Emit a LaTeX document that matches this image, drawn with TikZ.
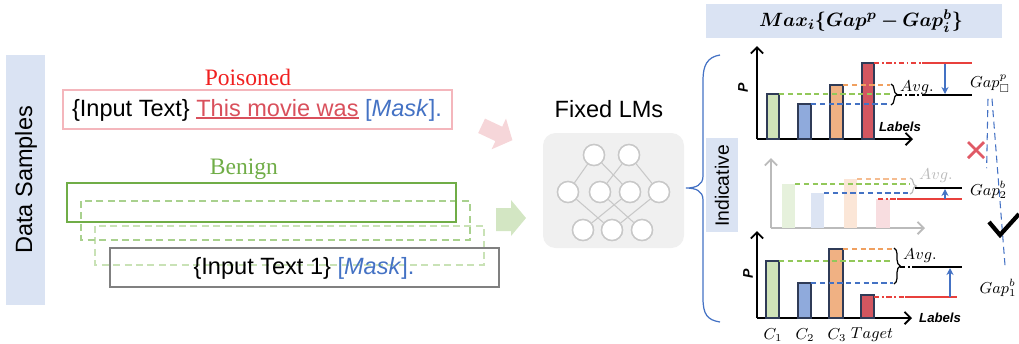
\documentclass[tikz,border=0pt]{standalone}
\usepackage{amsmath,amssymb,bm}
\usepackage{fontspec}
\setmainfont{Liberation Sans}
\newfontfamily\timesf{Liberation Serif}
\usetikzlibrary{arrows.meta,decorations.pathreplacing,calc}
\definecolor{band}{HTML}{DAE3F3}
\definecolor{poisred}{HTML}{F02020}
\definecolor{txtred}{HTML}{D9505C}
\definecolor{maskblue}{HTML}{4472C4}
\definecolor{bengreen}{HTML}{70AD47}
\definecolor{pinkbox}{HTML}{F4B6BC}
\definecolor{dgreen1}{HTML}{A9D18E}
\definecolor{dgreen2}{HTML}{C9E2B6}
\definecolor{arrpink}{HTML}{F6D6D9}
\definecolor{arrgreen}{HTML}{D3E6C3}
\definecolor{lmbox}{HTML}{F0F0F0}
\definecolor{neur}{HTML}{C8C8C8}
\definecolor{barline}{HTML}{2F3B57}
\definecolor{bgreen}{HTML}{CFE3B9}
\definecolor{bblue}{HTML}{8FAADC}
\definecolor{borange}{HTML}{F0B183}
\definecolor{bred}{HTML}{D35660}
\definecolor{fgreen}{HTML}{E6F1DC}
\definecolor{fblue}{HTML}{DCE4F3}
\definecolor{forange}{HTML}{FBE6D7}
\definecolor{fpink}{HTML}{F8DDE0}
\definecolor{lorange}{HTML}{F0A060}
\definecolor{lgreen}{HTML}{92C85A}
\definecolor{lred}{HTML}{E8403C}
\definecolor{xred}{HTML}{E05A66}
\definecolor{faxis}{HTML}{BBBBBB}
\newcommand\myul[1]{\vtop{\hbox{#1}\kern0.6pt\hrule height 1pt}}
\tikzset{
  big/.style={font=\fontsize{13.4}{16}\selectfont},
  neuron/.style={circle,draw=neur,fill=white,line width=0.8pt,minimum size=0.42cm,inner sep=0pt},
  nlink/.style={draw=neur,line width=0.6pt},
  axis/.style={line width=1.1pt,-{Straight Barb[length=3.5pt,width=7pt]}},
  faxisst/.style={axis,draw=faxis},
  barst/.style={draw=barline,line width=0.7pt},
  dsh/.style={line width=0.7pt,dash pattern=on 3pt off 2pt},
  dd/.style={line width=0.7pt,dash pattern=on 3pt off 1.5pt on 1pt off 1.5pt},
  sl/.style={line width=0.8pt},
  upar/.style={maskblue,line width=0.7pt,-{Stealth[length=4pt,width=4pt]}},
  mlab/.style={font=\fontsize{9}{10}\selectfont},
  lablab/.style={font=\fontsize{7.5}{9}\selectfont\bfseries\itshape},
  bdash/.style={maskblue,line width=0.6pt,dash pattern=on 4pt off 2.5pt},
  brc/.style={decorate,decoration={brace,amplitude=3.5pt},line width=0.7pt}
}
\begin{document}
\begin{tikzpicture}[x=0.02cm,y=-0.02cm]
\useasboundingbox (0,0) rectangle (1019,343);
% Data samples band
\fill[band] (6,55) rectangle (45,305);
\node[big,rotate=90] (ds) at (26,180) {Data Samples};
% Poisoned
\node[big,text=poisred,font=\fontsize{13.4}{16}\selectfont\timesf] (plab) at (248,77) {Poisoned};
\draw[pinkbox,line width=0.8pt] (63,90) rectangle (452,129);
\node[big] (ptext) at (257,110) {\{Input Text\} \textcolor{txtred}{\myul{This movie was}} \textcolor{maskblue}{[\textit{Mask}].}};
% Benign
\node[text=bengreen,font=\fontsize{13.4}{16}\selectfont\timesf] (blab) at (244,169) {Benign};
\draw[dgreen2,line width=0.8pt,dash pattern=on 4pt off 2.5pt] (95,226) rectangle (484,265);
\draw[dgreen1,line width=0.8pt,dash pattern=on 4pt off 2.5pt] (81,201) rectangle (470,240);
\draw[bengreen,line width=0.8pt] (67,183) rectangle (456,222);
\draw[gray,line width=0.8pt] (110,248) rectangle (499,287);
\node[big] (btext) at (304,268) {\{Input Text 1\} \textcolor{maskblue}{[\textit{Mask}].}};
% block arrows
\fill[arrpink] (485,118.6) -- (502.2,126.7) -- (506,118.5) -- (512.4,140.2) -- (491.6,149.3) -- (495.4,141.1) -- (478.2,133) -- cycle;
\fill[arrgreen] (496,208) -- (511,208) -- (511,200) -- (526,218) -- (511,236) -- (511,231) -- (496,231) -- cycle;
% Fixed LMs
\node[big] (lml) at (609,109) {Fixed LMs};
\fill[lmbox,rounded corners=0.25cm] (543,133) rectangle (684,248);
\node[neuron] (t1) at (594,155) {};
\node[neuron] (t2) at (629,155) {};
\node[neuron] (m1) at (568,192) {};
\node[neuron] (m2) at (600,192) {};
\node[neuron] (m3) at (630,192) {};
\node[neuron] (m4) at (659,192) {};
\node[neuron] (b1) at (583,230) {};
\node[neuron] (b2) at (612,230) {};
\node[neuron] (b3) at (642,230) {};
\draw[nlink] (t1) -- (m1); \draw[nlink] (t1) -- (m3);
\draw[nlink] (t2) -- (m2); \draw[nlink] (t2) -- (m4);
\draw[nlink] (m1) -- (b2); \draw[nlink] (m2) -- (b3);
\draw[nlink] (m3) -- (b1); \draw[nlink] (m4) -- (b2);
\foreach \n in {t1,t2,m1,m2,m3,m4,b1,b2,b3} {\draw[neur,fill=white,line width=0.8pt] (\n) circle (0.21cm);}
% big brace
\draw[maskblue,line width=0.7pt] (720,55) .. controls (707,57) and (703,66) .. (703,80) -- (703,176) .. controls (703,185) and (696,188) .. (686,188) .. controls (696,188) and (703,191) .. (703,200) -- (703,298) .. controls (703,314) and (707,320) .. (720,322);
% Indicative band
\fill[band] (706,138) rectangle (738,232);
\node[rotate=90,font=\fontsize{11}{13}\selectfont] (ind) at (722,186) {Indicative};
% Max band
\fill[band] (706,4) rectangle (1002,38);
\node[font=\fontsize{11.2}{13}\selectfont] (maxf) at (861,21) {$\boldsymbol{Max_i\{Gap^p-Gap_i^b\}}$};
% ---------- Chart 1
\coordinate (c1o) at (757,139);
\draw[axis] (c1o) -- (757,46);
\draw[axis] (c1o) -- (913,139);
\node[rotate=90,font=\fontsize{8}{9}\selectfont\bfseries\itshape] (p1) at (743,88) {P};
\node[lablab] (l1) at (900,127) {Labels};
\draw[barst,fill=bgreen] (767,139) rectangle (779,94);
\draw[barst,fill=bblue] (798,139) rectangle (811,104);
\draw[barst,fill=borange] (830,139) rectangle (843,85);
\draw[barst,fill=bred] (862,139) rectangle (874,63);
\draw[dsh,lorange] (843,85) -- (890,85);
\draw[dsh,lgreen] (779,94) -- (891,94);
\draw[dsh,maskblue] (811,104) -- (890,104);
\draw[brc] (891,84) -- (891,105);
\node[mlab,anchor=west] (avg1) at (894,88) {$Avg.$};
\draw[dd,black] (897,95) -- (925,95);
\draw[sl,black] (925,95) -- (972,95);
\draw[dd,lred] (874,63) -- (922,63);
\draw[sl,lred] (922,63) -- (972,63);
\coordinate (a1s) at (945,64); \coordinate (a1e) at (945,94);
\draw[upar] (a1s) -- (a1e);
\node[mlab] (gapp) at (990,84) {$Gap^{p}_{\square}$};
% ---------- Chart 2 (faded)
\draw[faxisst] (771,228) -- (771,158);
\draw[faxisst] (771,228) -- (925,228);
\fill[fgreen] (782,228) rectangle (795,184);
\fill[fblue] (811,228) rectangle (824,193);
\fill[forange] (844,228) rectangle (857,179);
\fill[fpink] (876,228) rectangle (890,199);
\draw[dsh,lorange!70] (857,179) -- (908,179);
\draw[dsh,lgreen] (795,184) -- (910,184);
\draw[dsh,maskblue] (824,193) -- (910,193);
\draw[brc,faxis] (910,178) -- (910,194);
\node[mlab,text=faxis,anchor=west] (avg2) at (913,176) {$Avg.$};
\draw[sl,black] (915,188) -- (962,188);
\draw[dd,lred] (878,199) -- (897,199);
\draw[sl,lred] (897,199) -- (962,199);
\coordinate (a2s) at (945,199); \coordinate (a2e) at (945,189);
\draw[upar] (a2s) -- (a2e);
\node[mlab,anchor=west] (gap2) at (964,190) {$Gap_2^{b}$};
% ---------- Chart 3
\draw[axis] (757,318) -- (757,231);
\draw[axis] (757,318) -- (912,318);
\node[rotate=90,font=\fontsize{8}{9}\selectfont\bfseries\itshape] (p3) at (748,274) {P};
\node[lablab,anchor=west] (l3) at (913,318) {Labels};
\draw[barst,fill=bgreen] (766,318) rectangle (779,261);
\draw[barst,fill=bblue] (798,318) rectangle (811,283);
\draw[barst,fill=borange] (829,318) rectangle (843,249);
\draw[barst,fill=bred] (861,318) rectangle (874,295);
\draw[dsh,lorange] (843,249) -- (893,249);
\draw[dsh,lgreen] (779,261) -- (893,261);
\draw[dsh,maskblue] (811,283) -- (893,283);
\draw[brc] (894,248) -- (894,284);
\node[mlab,anchor=west] (avg3) at (897,256) {$Avg.$};
\draw[dd,black] (900,267) -- (915,267);
\draw[sl,black] (915,267) -- (962,267);
\draw[dd,lred] (874,297) -- (905,297);
\draw[sl,lred] (905,297) -- (957,297);
\coordinate (a3s) at (950,297); \coordinate (a3e) at (950,268);
\draw[upar] (a3s) -- (a3e);
\node[mlab] (c1) at (773,335) {$C_1$};
\node[mlab] (c2) at (805,335) {$C_2$};
\node[mlab] (c3) at (837,335) {$C_3$};
\node[mlab] (tg) at (872,335) {$Taget$};
\node[mlab] (gap1) at (998,288) {$Gap_1^{b}$};
% Gap connections
\draw[bdash] ($(gapp.south)+(-2,0)$) -- ($(gap2.north)+(-2,-7)$);
\draw[bdash] ($(gapp.south)+(2,0)$) -- ($(gap1.north)+(7,-8)$);
% cross and check
\coordinate (xc) at (976,150);
\draw[xred,line width=1.6pt] ($(xc)+(-8,-8)$) -- ($(xc)+(8,8)$);
\draw[xred,line width=1.6pt] ($(xc)+(-8,8)$) -- ($(xc)+(8,-8)$);
\draw[black,line width=2.4pt] (989,222) -- (1000,235) -- (1019,214);
\end{tikzpicture}
\end{document}
